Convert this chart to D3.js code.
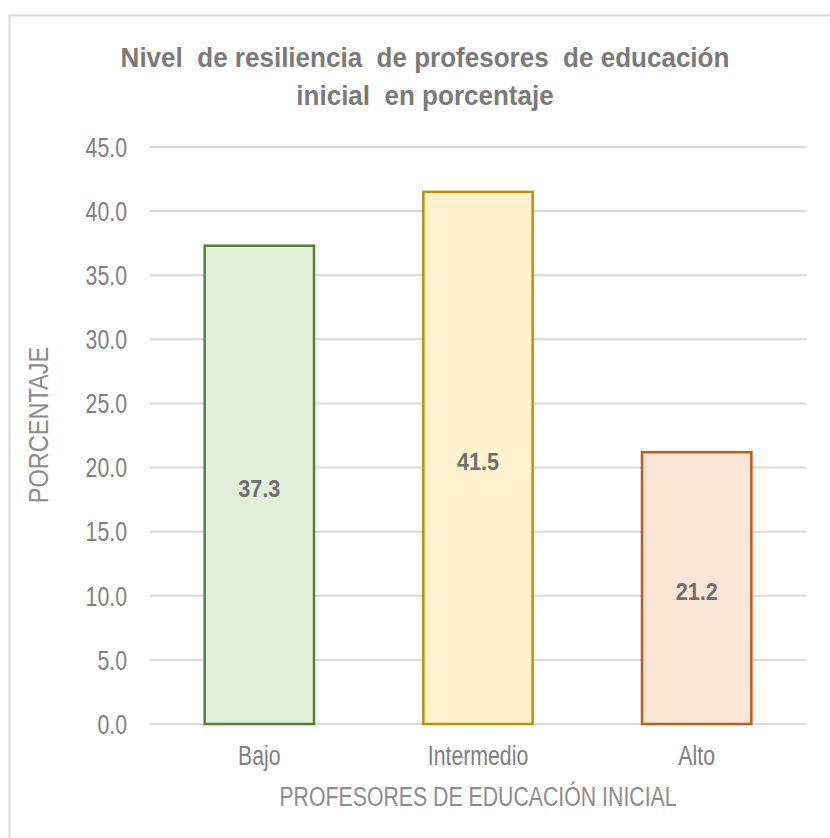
<!DOCTYPE html>
<html>
<head>
<meta charset="utf-8">
<script src="https://cdn.jsdelivr.net/npm/d3@7"></script>
<style>
  body { margin: 0; background: #fff; }
  text { font-family: "Liberation Sans", Arial, sans-serif; white-space: pre; }
</style>
</head>
<body>
<div id="chart"></div>
<script>
var categories = ["Bajo", "Intermedio", "Alto"]
var values = [37.3, 41.5, 21.2]
var fills = ["#e2efda", "#fff2cc", "#fbe5d6"]
var strokes = ["#548235", "#bf9000", "#c55a11"]
var yTicks = [0, 5, 10, 15, 20, 25, 30, 35, 40, 45]
var titleLines = ["Nivel  de resiliencia  de profesores  de educación", "inicial  en porcentaje"]

var width = 830, height = 838
var margin = {top: 147, right: 24, bottom: 114, left: 150}
// the reference uses a tall narrow face, so squeeze text horizontally
var squeeze = 0.76

var svg = d3.select("#chart").append("svg")
	.attr("width", width)
	.attr("height", height)

// chart frame
svg.append("path")
	.attr("d", "M9.5,838 L9.5,15.5 L830,15.5")
	.attr("fill", "none")
	.attr("stroke", "#d9d9d9")
	.attr("stroke-width", 2)

var x = d3.scaleBand()
	.domain(categories)
	.range([margin.left, width - margin.right])
	.paddingInner(0.5)
	.paddingOuter(0.25)

var y = d3.scaleLinear()
	.domain([0, 45])
	.range([height - margin.bottom, margin.top])

function placed(tx, ty, sx) {
	return `translate(${tx},${ty}) scale(${sx},1)`
}

// gridlines
svg.append("g")
	.selectAll("line")
	.data(yTicks)
	.join("line")
		.attr("x1", margin.left)
		.attr("x2", width - margin.right)
		.attr("y1", d => y(d))
		.attr("y2", d => y(d))
		.attr("stroke", "#d9d9d9")
		.attr("stroke-width", 2)

// y tick labels
svg.append("g")
	.selectAll("text")
	.data(yTicks)
	.join("text")
		.attr("transform", d => placed(127, y(d), squeeze))
		.attr("dy", "0.35em")
		.attr("text-anchor", "end")
		.attr("fill", "#808080")
		.attr("font-size", 28)
		.text(d => d.toFixed(1))

// bars
svg.append("g")
	.selectAll("rect")
	.data(values)
	.join("rect")
		.attr("x", (d, i) => x(categories[i]))
		.attr("y", d => y(d))
		.attr("width", x.bandwidth())
		.attr("height", d => y(0) - y(d))
		.attr("fill", (d, i) => fills[i])
		.attr("stroke", (d, i) => strokes[i])
		.attr("stroke-width", 2.5)

// data labels
svg.append("g")
	.selectAll("text")
	.data(values)
	.join("text")
		.attr("transform", (d, i) => placed(x(categories[i]) + x.bandwidth() / 2, (y(d) + y(0)) / 2 + 4, 0.9))
		.attr("dy", "0.35em")
		.attr("text-anchor", "middle")
		.attr("font-weight", "bold")
		.attr("font-size", 24)
		.attr("fill", "#6f6f6f")
		.text(d => d.toFixed(1))

// x tick labels
svg.append("g")
	.selectAll("text")
	.data(categories)
	.join("text")
		.attr("transform", d => placed(x(d) + x.bandwidth() / 2, 755, squeeze))
		.attr("dy", "0.35em")
		.attr("text-anchor", "middle")
		.attr("fill", "#808080")
		.attr("font-size", 28)
		.text(d => d)

// axis titles
svg.append("text")
	.attr("transform", placed(478, 796, squeeze))
	.attr("dy", "0.35em")
	.attr("text-anchor", "middle")
	.attr("fill", "#8c8c8c")
	.attr("font-size", 28)
	.text("PROFESORES DE EDUCACIÓN INICIAL")

svg.append("text")
	.attr("transform", "translate(38,425) rotate(-90) scale(0.84,1)")
	.attr("dy", "0.35em")
	.attr("text-anchor", "middle")
	.attr("fill", "#8c8c8c")
	.attr("font-size", 28)
	.text("PORCENTAJE")

// title
svg.append("g")
	.selectAll("text")
	.data(titleLines)
	.join("text")
		.attr("transform", (d, i) => placed(425, 67 + i * 38, 0.93))
		.attr("text-anchor", "middle")
		.attr("font-weight", "bold")
		.attr("font-size", 28)
		.attr("fill", "#7a7a7a")
		.text(d => d)
</script>
</body>
</html>
